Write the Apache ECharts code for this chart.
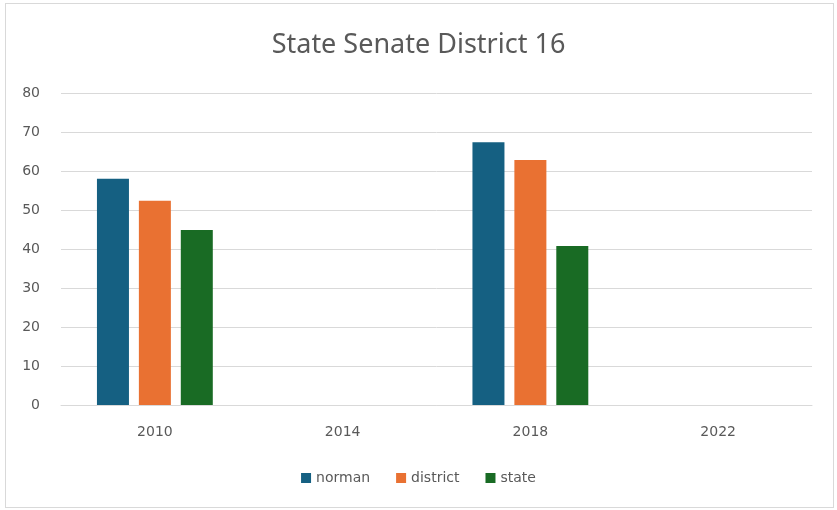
<!DOCTYPE html>
<html>
<head>
<meta charset="utf-8">
<script src="https://cdn.jsdelivr.net/npm/echarts@6/dist/echarts.min.js"></script>
<style>
  html, body { margin: 0; padding: 0; background: #fff; }
  #frame { position: absolute; left: 5px; top: 3px; width: 829px; height: 505px; border: 1px solid #d9d9d9; box-sizing: border-box; }
  #chart { position: absolute; left: 0; top: 0; width: 837px; height: 510px; }
</style>
</head>
<body>
<div id="frame"></div>
<div id="chart"></div>
<script>
// data
const years = ['2010', '2014', '2018', '2022'];
const norman = [58, null, 67.4, null];
const district = [52.4, null, 62.8, null];
const state = [44.9, null, 40.8, null];

const chart = echarts.init(document.getElementById('chart'));
const labelColor = '#595959';
const option = {
  animation: false,
  title: {
    text: 'State Senate District 16',
    left: 'center',
    top: 27,
    textStyle: { fontFamily: 'Noto Sans', fontWeight: 'normal', fontSize: 27, color: labelColor }
  },
  legend: {
    bottom: 20,
    left: 'center',
    itemWidth: 10,
    itemHeight: 10,
    itemGap: 26,
    icon: 'rect',
    textStyle: { fontFamily: 'DejaVu Sans', fontSize: 14, color: labelColor }
  },
  grid: { left: 61, right: 25, top: 93, bottom: 105 },
  xAxis: {
    type: 'category',
    data: years,
    axisLine: { lineStyle: { color: '#d9d9d9' } },
    axisTick: { show: false },
    axisLabel: { color: labelColor, fontFamily: 'DejaVu Sans', fontSize: 14, margin: 20 }
  },
  yAxis: {
    type: 'value',
    min: 0,
    max: 80,
    interval: 10,
    axisLabel: { color: labelColor, fontFamily: 'DejaVu Sans', fontSize: 14, margin: 21 },
    splitLine: { lineStyle: { color: '#d9d9d9' } }
  },
  series: [
    { name: 'norman', type: 'bar', data: norman, itemStyle: { color: '#156082' }, barWidth: 32, barGap: '31%' },
    { name: 'district', type: 'bar', data: district, itemStyle: { color: '#E97132' }, barWidth: 32, barGap: '31%' },
    { name: 'state', type: 'bar', data: state, itemStyle: { color: '#196B24' }, barWidth: 32, barGap: '31%' }
  ]
};
chart.setOption(option);
</script>
</body>
</html>
